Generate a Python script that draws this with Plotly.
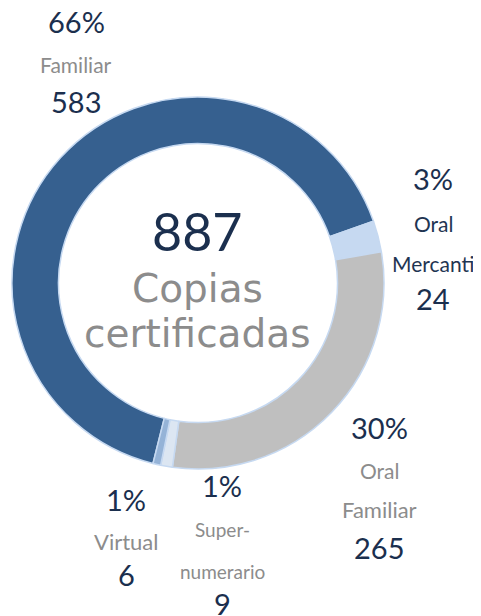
import plotly.graph_objects as go

# ---- data ----
categories = ["Familiar", "Oral Mercanti", "Oral Familiar", "Super-numerario", "Virtual"]
values = [583, 24, 265, 9, 6]
name_lines = [["Familiar"], ["Oral", "Mercanti"], ["Oral", "Familiar"], ["Super-", "numerario"], ["Virtual"]]
center_title = ["Copias", "certificadas"]

# ---- style ----
colors = ["#36608F", "#C6D9F1", "#BFBFBF", "#DCE6F2", "#95B3D7"]
name_colors = ["#8C8C8C", "#1F3552", "#8C8C8C", "#8C8C8C", "#8C8C8C"]
NAVY = "#1B2F4E"
GRAY = "#8C8C8C"
FONT = "Lato"
W, H = 481, 616
OFF = 8      # page body margin compensation
DY = -1      # visual centering correction for text

total = sum(values)
pcts = [f"{round(v / total * 100)}%" for v in values]

fig = go.Figure(go.Pie(
    labels=categories,
    values=values,
    hole=0.75,
    sort=False,
    direction="clockwise",
    rotation=194,
    marker=dict(colors=colors, line=dict(color="#C6D9F1", width=1.5)),
    textinfo="none",
    hoverinfo="label+value+percent",
    domain=dict(x=[(12 - OFF) / W, (384 - OFF) / W],
                y=[1 - (469 - OFF) / H, 1 - (97 - OFF) / H]),
    showlegend=False,
))

label_layout = [
    (76, [23, 65, 102], [29, 21, 29]),
    (433, [179, 224, 264, 299], [29, 21, 21, 29]),
    (379, [429, 471, 510, 548], [29, 21, 22, 29]),
    (222, [486, 530, 572, 604], [29, 19, 19, 29]),
    (126, [500, 542, 575], [29, 22, 29]),
]

annotations = []
def add(text, xpx, ypx, size, color, family=FONT):
    annotations.append(dict(
        text=text, x=(xpx - OFF) / W, y=1 - (ypx - OFF + DY) / H,
        xref="paper", yref="paper",
        xanchor="center", yanchor="middle", showarrow=False,
        font=dict(family=family, size=size, color=color),
    ))

for i in range(len(categories)):
    xpx, ys, sizes = label_layout[i]
    texts = [pcts[i]] + name_lines[i] + [str(values[i])]
    cols = [NAVY] + [name_colors[i]] * len(name_lines[i]) + [NAVY]
    for t, y, s, c in zip(texts, ys, sizes, cols):
        add(t, xpx, y, s, c)

add(str(total), 197, 232, 52, NAVY)
add(center_title[0], 197, 289, 39, GRAY, "DejaVu Sans")
add(center_title[1], 197, 334, 39, GRAY, "DejaVu Sans")

fig.update_layout(
    width=W, height=H,
    margin=dict(l=0, r=0, t=0, b=0),
    paper_bgcolor="white", plot_bgcolor="white",
    annotations=annotations,
)

fig.write_html("out.html")
